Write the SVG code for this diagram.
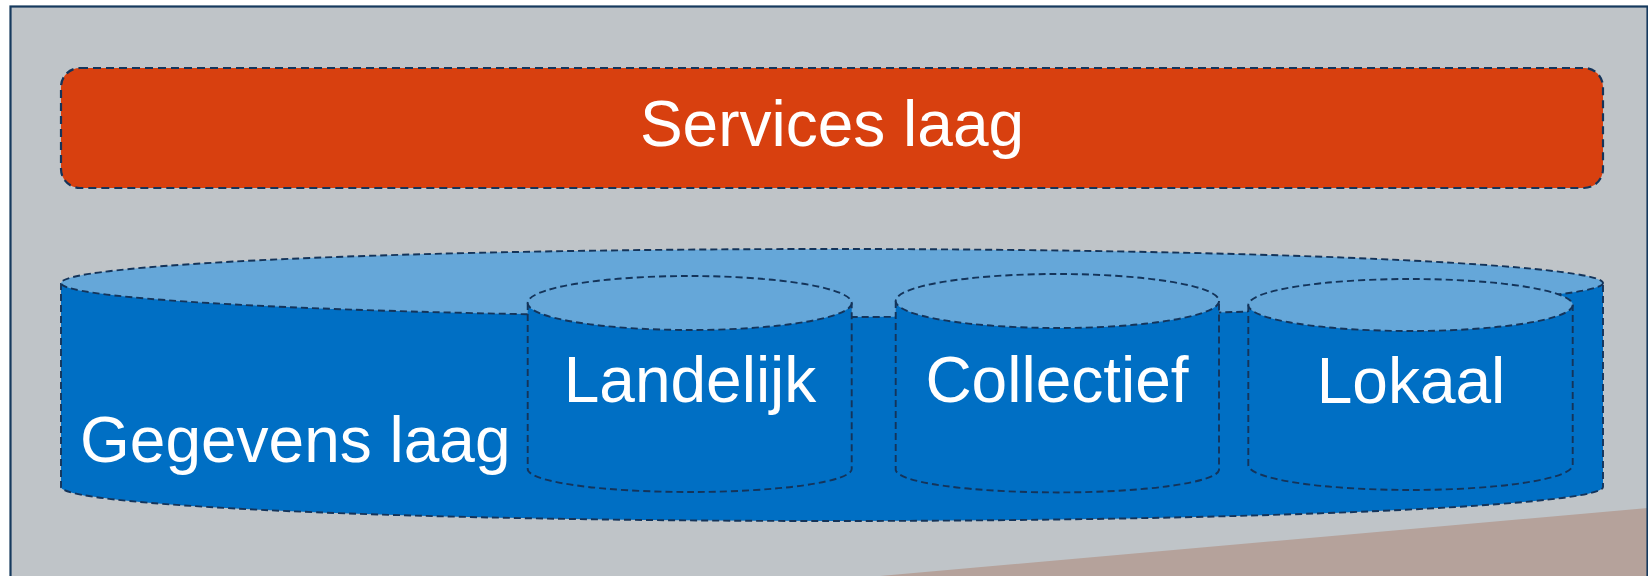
<svg xmlns="http://www.w3.org/2000/svg" width="1648" height="576" viewBox="0 0 1648 576">
  <style>
    .side { fill: #006fc4; stroke: none; }
    .edge { fill: none; stroke: #14345a; stroke-width: 1.9; stroke-dasharray: 7 4; }
    .top { fill: #65a7d9; stroke: #14345a; stroke-width: 1.9; stroke-dasharray: 7 4; }
    .lbl { font-family: "Liberation Sans", Arial, sans-serif; font-size: 64px; fill: #ffffff; }
  </style>
  <rect x="0" y="0" width="1648" height="576" fill="#ffffff"/>
  <g id="background">
    <rect x="10.5" y="6.5" width="1637" height="600" fill="#bfc4c8"/>
    <polygon points="880,576 1648,508 1648,576" fill="#b5a29b"/>
    <rect x="10.5" y="6.5" width="1637" height="600" fill="none" stroke="#163a5e" stroke-width="2.2"/>
  </g>
  <g id="services-laag">
    <rect x="61" y="68" width="1542" height="120" rx="19" ry="19" fill="#d8400f" stroke="#14345a" stroke-width="2.2" stroke-dasharray="8 5"/>
    <text class="lbl" x="832" y="146" text-anchor="middle">Services laag</text>
  </g>
  <g id="gegevens-laag">
    <path class="side" d="M61,283 L61,487 A771,34 0 0 0 1603,487 L1603,283 Z"/>
    <path class="edge" d="M61,283 L61,487 A771,34 0 0 0 1603,487 L1603,283"/>
    <ellipse class="top" cx="832" cy="283" rx="771" ry="34"/>
    <text class="lbl" x="80" y="462">Gegevens laag</text>
  </g>
  <g id="landelijk">
    <path class="side" d="M527.7,303 L527.7,469 A162,23 0 0 0 851.7,469 L851.7,303 Z"/>
    <path class="edge" d="M527.7,303 L527.7,469 A162,23 0 0 0 851.7,469 L851.7,303"/>
    <ellipse class="top" cx="689.7" cy="303" rx="162" ry="27"/>
    <text class="lbl" x="690" y="402" text-anchor="middle">Landelijk</text>
  </g>
  <g id="collectief">
    <path class="side" d="M895.7,301 L895.7,470 A161.7,23 0 0 0 1219,470 L1219,301 Z"/>
    <path class="edge" d="M895.7,301 L895.7,470 A161.7,23 0 0 0 1219,470 L1219,301"/>
    <ellipse class="top" cx="1057.4" cy="301" rx="161.7" ry="27"/>
    <text class="lbl" x="1057" y="402" text-anchor="middle">Collectief</text>
  </g>
  <g id="lokaal">
    <path class="side" d="M1248.3,305 L1248.3,465 A162.2,25 0 0 0 1572.7,465 L1572.7,305 Z"/>
    <path class="edge" d="M1248.3,305 L1248.3,465 A162.2,25 0 0 0 1572.7,465 L1572.7,305"/>
    <ellipse class="top" cx="1410.5" cy="305" rx="162.2" ry="26"/>
    <text class="lbl" x="1411" y="403" text-anchor="middle">Lokaal</text>
  </g>
  <g id="connectors"/>
</svg>
